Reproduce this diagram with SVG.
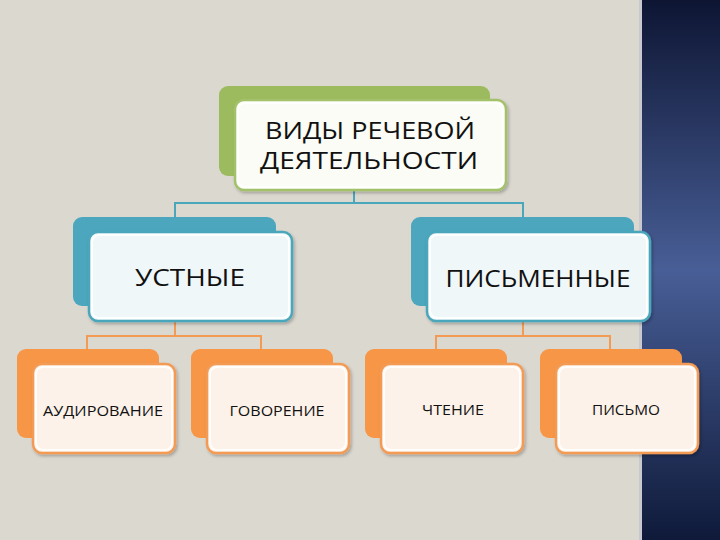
<svg xmlns="http://www.w3.org/2000/svg" width="720" height="540" viewBox="0 0 720 540">
<defs>
<linearGradient id="panel" x1="0" y1="0" x2="0" y2="1">
<stop offset="0" stop-color="#0d1533"/>
<stop offset="0.5" stop-color="#485e96"/>
<stop offset="1" stop-color="#0f1a3a"/>
</linearGradient>
<filter id="sh" x="-10%" y="-10%" width="125%" height="130%">
<feDropShadow dx="1.5" dy="2" stdDeviation="1.5" flood-color="#000" flood-opacity="0.25"/>
</filter>
<style>
.t{font-family:"Open Sans","DejaVu Sans",sans-serif;fill:#111;text-anchor:middle}
.big{font-size:23px}
.mid{font-size:24px}
.sm{font-size:15px}
.backG{fill:#9cbb5e}
.backB{fill:#4ba6be}
.backO{fill:#f79646}
.frontG{fill:#fbfcf5;stroke:#a3c16a;stroke-width:2.5}
.frontB{fill:#f0f7f9;stroke:#4aa6bb;stroke-width:2.5}
.frontO{fill:#fdf2e9;stroke:#f39a55;stroke-width:2.5}
.inner{fill:none;stroke:#ffffff;stroke-width:2;opacity:0.9}
.cB{fill:none;stroke:#4aa6bb;stroke-width:2}
.cO{fill:none;stroke:#f39a55;stroke-width:2}
</style>
</defs>
<rect x="0" y="0" width="720" height="540" fill="#dbd8d0"/>
<rect x="639" y="0" width="3" height="540" fill="#c9c8cf"/>
<rect x="642" y="0" width="78" height="540" fill="url(#panel)"/>

<g id="connectors">
<path class="cB" d="M354 190 V203 M175 218 V203 H523 V218"/>
<path class="cO" d="M175 321 V336 M87 349 V336 H261 V349"/>
<path class="cO" d="M523 321 V336 M436 349 V336 H610 V349"/>
</g>

<g id="root">
<rect class="backG" x="219" y="86" width="271" height="90" rx="9"/>
<rect class="frontG" x="235" y="100" width="271" height="90" rx="9" filter="url(#sh)"/>
<rect class="inner" x="238" y="103" width="265" height="84" rx="7"/>
<text class="t big" x="370" y="139" textLength="210" lengthAdjust="spacingAndGlyphs">ВИДЫ РЕЧЕВОЙ</text>
<text class="t big" x="369" y="169" textLength="218" lengthAdjust="spacingAndGlyphs">ДЕЯТЕЛЬНОСТИ</text>
</g>

<g id="oral">
<rect class="backB" x="73" y="217" width="203" height="89" rx="9"/>
<rect class="frontB" x="89" y="232" width="203" height="89" rx="9" filter="url(#sh)"/>
<rect class="inner" x="92" y="235" width="197" height="83" rx="7"/>
<text class="t mid" x="190" y="286" textLength="110" lengthAdjust="spacingAndGlyphs">УСТНЫЕ</text>
</g>

<g id="written">
<rect class="backB" x="411" y="217" width="223" height="89" rx="9"/>
<rect class="frontB" x="427" y="232" width="223" height="89" rx="9" filter="url(#sh)"/>
<rect class="inner" x="430" y="235" width="217" height="83" rx="7"/>
<text class="t mid" x="538" y="287" textLength="185" lengthAdjust="spacingAndGlyphs">ПИСЬМЕННЫЕ</text>
</g>

<g id="listening">
<rect class="backO" x="17" y="349" width="142" height="89" rx="9"/>
<rect class="frontO" x="33" y="364" width="142" height="89" rx="9" filter="url(#sh)"/>
<rect class="inner" x="36" y="367" width="136" height="83" rx="7"/>
<text class="t sm" x="103" y="416" textLength="120" lengthAdjust="spacingAndGlyphs">АУДИРОВАНИЕ</text>
</g>

<g id="speaking">
<rect class="backO" x="191" y="349" width="142" height="89" rx="9"/>
<rect class="frontO" x="207" y="364" width="142" height="89" rx="9" filter="url(#sh)"/>
<rect class="inner" x="210" y="367" width="136" height="83" rx="7"/>
<text class="t sm" x="277" y="416" textLength="95" lengthAdjust="spacingAndGlyphs">ГОВОРЕНИЕ</text>
</g>

<g id="reading">
<rect class="backO" x="365" y="349" width="142" height="89" rx="9"/>
<rect class="frontO" x="381" y="364" width="142" height="89" rx="9" filter="url(#sh)"/>
<rect class="inner" x="384" y="367" width="136" height="83" rx="7"/>
<text class="t sm" x="453" y="415" textLength="62" lengthAdjust="spacingAndGlyphs">ЧТЕНИЕ</text>
</g>

<g id="writing">
<rect class="backO" x="540" y="349" width="142" height="89" rx="9"/>
<rect class="frontO" x="556" y="364" width="142" height="89" rx="9" filter="url(#sh)"/>
<rect class="inner" x="559" y="367" width="136" height="83" rx="7"/>
<text class="t sm" x="626" y="415" textLength="68" lengthAdjust="spacingAndGlyphs">ПИСЬМО</text>
</g>
</svg>
